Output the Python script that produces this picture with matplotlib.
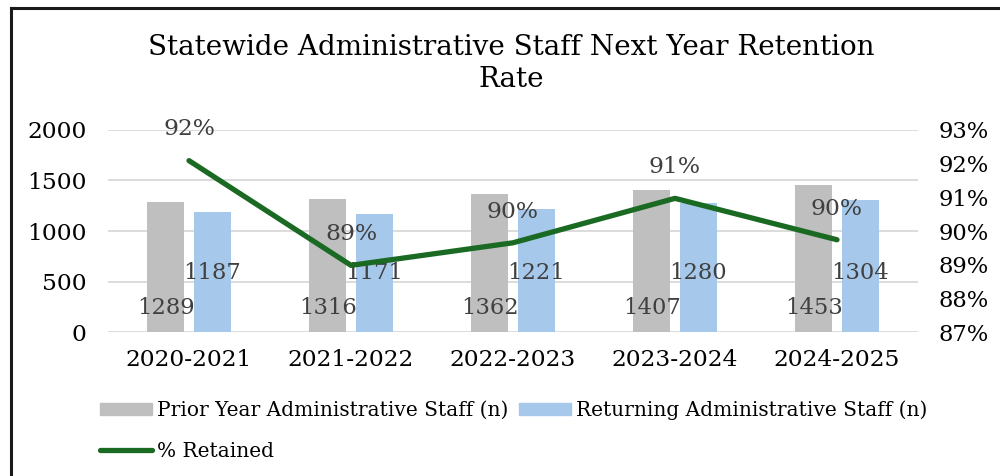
import matplotlib.pyplot as plt
import matplotlib.patches as mpatches
from matplotlib.lines import Line2D
import numpy as np

years = ["2020-2021", "2021-2022", "2022-2023", "2023-2024", "2024-2025"]
prior_staff = [1289, 1316, 1362, 1407, 1453]
returning_staff = [1187, 1171, 1221, 1280, 1304]
pct_retained = [92.09, 88.98, 89.65, 90.97, 89.74]

GRAY = '#bfbfbf'
BLUE = '#a6c8eb'
GREEN = '#1b6a23'
LABEL = '#404040'
FONT = 'DejaVu Serif'

plt.rcParams['font.family'] = FONT

fig = plt.figure(figsize=(10, 4.76), dpi=100)
ax = fig.add_axes([0.108, 0.3025, 0.81, 0.4244])
ax2 = ax.twinx()

x = np.arange(len(years))
w = 0.229
ax.bar(x - 0.143, prior_staff, w, color=GRAY, zorder=2)
ax.bar(x + 0.143, returning_staff, w, color=BLUE, zorder=2)

# bar value labels sit low inside the bars
for i in range(len(years)):
    ax.text(x[i] - 0.143, 240, str(prior_staff[i]), ha='center', va='center',
            fontsize=16.3, color=LABEL, zorder=4)
    ax.text(x[i] + 0.143, 585, str(returning_staff[i]), ha='center', va='center',
            fontsize=16.3, color=LABEL, zorder=4)

ax.set_xlim(-0.5, len(years) - 0.5)
ax.set_ylim(0, 2000)
ax.set_yticks([0, 500, 1000, 1500, 2000])
ax.yaxis.grid(True, color='#d9d9d9', linewidth=1.3)
ax.set_axisbelow(True)
ax.set_xticks(x)
ax.set_xticklabels(years)
ax.tick_params(length=0, labelsize=16.8, colors='black')
ax.tick_params(axis='y', pad=15.5)
ax.tick_params(axis='x', pad=12)
for s in ax.spines.values():
    s.set_visible(False)

ax2.plot(x, pct_retained, color=GREEN, linewidth=3.8, solid_capstyle='round', zorder=5)
for i in range(len(years)):
    ax2.annotate('%d%%' % round(pct_retained[i]), (x[i], pct_retained[i]),
                 xytext=(0, 22.5), textcoords='offset points', ha='center', va='center',
                 fontsize=16.8, color=LABEL)
ax2.set_ylim(87, 93)
ax2.set_yticks(range(87, 94))
ax2.set_yticklabels(['%d%%' % v for v in range(87, 94)])
ax2.tick_params(length=0, labelsize=16.3, colors='black', pad=15)
for s in ax2.spines.values():
    s.set_visible(False)

fig.text(0.511, 0.866, 'Statewide Administrative Staff Next Year Retention\nRate',
         ha='center', va='center', fontsize=20, linespacing=1.22)

handles = [mpatches.Patch(color=GRAY), mpatches.Patch(color=BLUE)]
fig.legend(handles, ['Prior Year Administrative Staff (n)', 'Returning Administrative Staff (n)'],
           loc='center left', bbox_to_anchor=(0.1, 0.138), ncol=2, frameon=False,
           fontsize=14.5, handlelength=2.6, handleheight=0.5, handletextpad=0.25,
           columnspacing=0.5, borderpad=0, borderaxespad=0)
fig.legend([Line2D([], [], color=GREEN, linewidth=3.8, solid_capstyle='round')], ['% Retained'],
           loc='center left', bbox_to_anchor=(0.1, 0.052), frameon=False,
           fontsize=14.5, handlelength=2.6, handletextpad=0.25, borderpad=0, borderaxespad=0)

# chart frame, open at right and bottom
fig.add_artist(Line2D([0.011, 0.011], [0, 0.984], color='#1a1a1a', linewidth=2.2,
                      transform=fig.transFigure))
fig.add_artist(Line2D([0.011, 1], [0.984, 0.984], color='#1a1a1a', linewidth=2.2,
                      transform=fig.transFigure))

fig.savefig('out.png', dpi=100)
